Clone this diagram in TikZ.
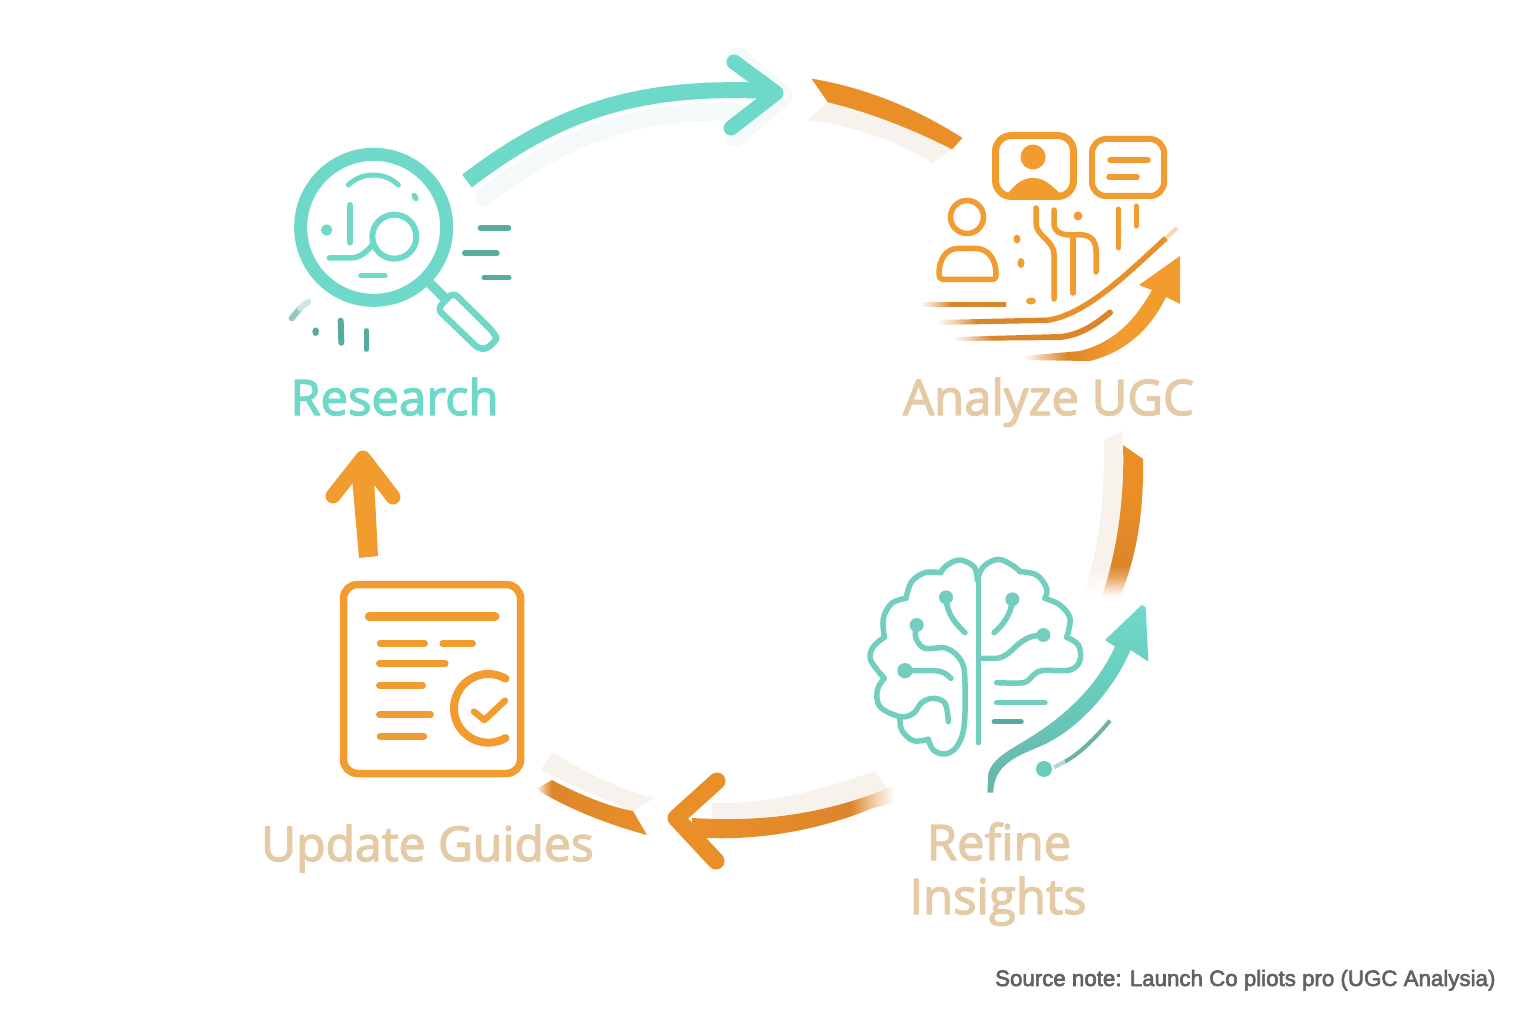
\documentclass[tikz,border=0pt]{standalone}
\usepackage{fontspec}
\setmainfont{Lato}
\newfontfamily\labelfont{Open Sans}
\newfontfamily\notefont{Liberation Sans}
\newcommand{\heavy}[2]{\special{pdf:code q #1 w 1 j 2 Tr}#2\special{pdf:code Q}}
\usetikzlibrary{calc}
\definecolor{teal}{HTML}{6FD9C9}
\definecolor{tealdark}{HTML}{58AB9F}
\definecolor{tealline}{HTML}{72CFC0}
\definecolor{orangeicon}{HTML}{F29B2E}
\definecolor{orangearrow}{HTML}{EA8F28}
\definecolor{orangedeep}{HTML}{DD852A}
\definecolor{tanlabel}{HTML}{E4CBA5}
\definecolor{notegray}{HTML}{5F635E}
\definecolor{shadeorange}{HTML}{F8F2EC}
\definecolor{shadeteal}{HTML}{F4FAF9}
\pgfdeclarehorizontalshading{linefade}{100bp}{color(0bp)=(white); color(25bp)=(white); color(33bp)=(orangedeep!40!white); color(43bp)=(orangedeep!90!brown); color(100bp)=(orangedeep)}
\pgfdeclarehorizontalshading{arrowfade}{100bp}{color(0bp)=(white); color(25bp)=(white); color(31bp)=(orangedeep!45!white); color(39bp)=(orangedeep); color(54bp)=(orangeicon); color(100bp)=(orangeicon)}
\pgfdeclareverticalshading{rightfade}{100bp}{color(0bp)=(white); color(25bp)=(white); color(31bp)=(orangedeep!70!white); color(35bp)=(orangedeep); color(60bp)=(orangearrow); color(100bp)=(orangearrow)}
\pgfdeclareverticalshading{rightghost}{100bp}{color(0bp)=(white); color(25bp)=(white); color(33bp)=(shadeorange); color(100bp)=(shadeorange)}
\pgfdeclarehorizontalshading{tailfade}{100bp}{color(0bp)=(orangearrow); color(25bp)=(orangearrow); color(64bp)=(orangedeep); color(70bp)=(orangedeep!40!white); color(75bp)=(white); color(100bp)=(white)}
\pgfdeclarehorizontalshading{tailfadeb}{100bp}{color(0bp)=(white); color(25bp)=(white); color(28bp)=(orangedeep!50!white); color(32bp)=(orangedeep); color(75bp)=(orangearrow); color(100bp)=(orangearrow)}
\tikzset{
  x=1pt,y=-1pt,
  lab/.style={font=\labelfont\fontsize{49}{49}\selectfont,anchor=base},
  tealstroke/.style={draw=teal,line cap=round,line join=round},
  brainline/.style={draw=tealline,line width=5.5pt,line cap=round,line join=round},
  darkstroke/.style={draw=tealdark,line cap=round,line join=round},
  ostroke/.style={draw=orangeicon,line cap=round,line join=round},
  zoomres/.style={shift={(270,130)},scale=1/3},
  zoombrain/.style={shift={(850,550)},scale=1/3},
  zoomdoc/.style={shift={(330,570)},scale=1/3},
}
\newcommand{\lobeplot}[1]{\draw[brainline] plot[smooth,tension=.6] coordinates {#1};}
\begin{document}
\begin{tikzpicture}
\useasboundingbox (0,0) rectangle (1536,1024);
\fill[white] (0,0) rectangle (1536,1024);

% ---------- named ends of the connectors
\coordinate (ra) at (467,181);
\coordinate (rb) at (776,93);
\coordinate (ab) at (812,79);
\coordinate (ba) at (1123,445);
\coordinate (ur) at (363,458);

% ---------- connector 1 Research -> Analyze
\draw[shadeteal,line width=18pt,line cap=round] (484,197) .. controls (560,137) and (640,108) .. (735,112);
\draw[shadeteal,line width=21pt,line cap=round,line join=round] (738,58) -- (782,96) -- (735,136);
\draw[teal,line width=16pt] (ra) .. controls (560,110) and (640,85) .. (770,91);
\draw[teal,line width=15pt,line cap=round,line join=round] (734,62) -- (rb) -- (731,128);

% ---------- connector 2 Analyze side
\fill[shadeorange] (808,120) -- (828,102) .. controls (870,112) and (915,130) .. (952,149) -- (933,163) .. controls (895,140) and (850,125) .. (808,120) -- cycle;
\fill[orangearrow,draw=orangearrow,line width=.5pt,line join=round] (ab) .. controls (865,88) and (915,108) .. (962,138) -- (952,149) .. controls (915,130) and (870,112) .. (828,102) -- cycle;

% ---------- connector 3 right
\shade[shading=rightghost] (1104,440) -- (1122,431) -- (1126,596) -- (1083,596) .. controls (1098,555) and (1105,500) .. (1104,440) -- cycle;
\shade[shading=rightfade] (ba) -- (1143,459) .. controls (1144,505) and (1138,555) .. (1120,596) -- (1102,596) .. controls (1116,555) and (1125,500) .. (ba) -- cycle;

% ---------- connector 4 bottom
\fill[shadeorange] (712,803) .. controls (770,805) and (820,790) .. (875,771) -- (893,797) -- (870,797) .. controls (815,815) and (760,820) .. (712,818) -- cycle;
\shade[shading=tailfade] (692,818) .. controls (760,822) and (815,815) .. (873,794) -- (895,785) -- (894,803) -- (873,808) .. controls (815,832) and (750,842) .. (692,837) -- cycle;
\draw[orangearrow,line width=17pt,line cap=round,line join=round] (717,781) -- (676,818) -- (716,861);

% ---------- connector 5 Guides side
\fill[shadeorange] (541,770) -- (552,752) .. controls (585,772) and (620,790) .. (654,798) -- (633,811) .. controls (605,800) and (570,785) .. (541,770) -- cycle;
\shade[shading=tailfadeb] (536,789) -- (552,780) .. controls (580,795) and (610,807) .. (633,811) -- (647,835) .. controls (610,825) and (570,810) .. (536,789) -- cycle;

% ---------- connector 6 Update -> Research
\fill[orangeicon] (359,558) -- (352,478) -- (363,452) -- (374,478) -- (378,556) -- cycle;
\draw[orangeicon,line width=15pt,line cap=round,line join=round] (333,496) -- (ur) -- (393,497);

% ---------- Research icon
\begin{scope}[zoomres]
\draw[teal,line width=13pt] (311,292) circle (219);
\draw[tealstroke,line width=5pt] (235,165) .. controls (275,125) and (345,125) .. (385,165);
\fill[teal] (435,201) ellipse [x radius=9,y radius=14,rotate=30];
\draw[tealstroke,line width=6pt] (240,225) -- (240,338);
\fill[teal] (170,300) circle (17);
\draw[tealstroke,line width=6pt] (373,320) circle (66);
\draw[tealstroke,line width=5.5pt] (178,384) -- (240,384) .. controls (270,384) and (290,365) .. (307,345);
\draw[tealstroke,line width=5pt] (272,437) -- (345,437);
\draw[darkstroke,line width=6pt] (632,295) -- (715,295);
\draw[darkstroke,line width=6pt] (585,370) -- (680,370);
\draw[darkstroke,line width=5pt] (642,443) -- (717,443);
\draw[tealdark!65!white,line width=6pt,line cap=round] (65,565) -- (90,535);
\draw[tealdark!30!white,line width=6pt,line cap=round] (90,535) -- (115,515);
\fill[tealdark] (137,605) ellipse [x radius=10,y radius=13];
\draw[darkstroke,line width=6pt] (212,572) -- (214,638);
\draw[darkstroke,line width=5pt] (288,602) -- (288,658);
\draw[teal,line width=10pt] (480,460) -- (530,510);
\draw[teal,fill=white,line width=6.5pt,rounded corners=6pt,line join=round] (502,537) -- (550,487) -- (672,608) .. controls (680,625) and (665,650) .. (630,660) -- cycle;
\end{scope}

% ---------- Analyze icon
\draw[orangeicon,line width=7pt,rounded corners=16pt] (995.5,135.5) rectangle (1073.5,196.5);
\fill[orangeicon] (1033,157) circle (12.5);
\fill[orangeicon] (1005,196) .. controls (1012,190) and (1018,178) .. (1033,178) .. controls (1048,178) and (1054,190) .. (1064,196) -- cycle;
\draw[orangeicon,line width=6pt,rounded corners=14pt] (1092,139) rectangle (1164,196);
\draw[ostroke,line width=5.5pt] (1110,160) -- (1148,160);
\draw[ostroke,line width=5.5pt] (1109,177) -- (1137,177);
\draw[orangeicon,line width=5.5pt] (967,217) circle (16.5);
\draw[ostroke,line width=5.5pt] (945,279.5) -- (991,279.5) .. controls (995,279.5) and (996,278) .. (996,274) .. controls (996,258) and (987,248.5) .. (976,248.5) -- (958,248.5) .. controls (947,248.5) and (939,258) .. (939,274) .. controls (939,278) and (941,279.5) .. (945,279.5) -- cycle;
\fill[orangeicon] (1017,239) ellipse [x radius=3.5,y radius=4.5];
\fill[orangeicon] (1021,263) ellipse [x radius=3.5,y radius=5];
\fill[orangeicon] (1031,301) ellipse [x radius=5,y radius=3.5];
\draw[ostroke,line width=5.5pt] (1036,208) -- (1036,223) .. controls (1036,236) and (1054,240) .. (1054,255) -- (1054,299);
\draw[ostroke,line width=5.5pt] (1054,210) -- (1054,223) .. controls (1054,232) and (1060,234) .. (1068,235) -- (1083,235) .. controls (1092,236) and (1096,242) .. (1096,250) -- (1096,272);
\draw[ostroke,line width=5.5pt] (1073,235) -- (1073,293);
\fill[orangeicon] (1078,216) circle (4.5);
\draw[ostroke,line width=5pt] (1118,209) -- (1118,248);
\draw[ostroke,line width=5pt] (1136,206) -- (1136,226);
% sweep lines
\shade[shading=linefade] (920,302) rectangle (1006,306.5);
\shade[shading=linefade] (937,320) -- (1048,317.5) -- (1048,323) -- (937,325) -- cycle;
\draw[orangeicon!50!orangedeep,line width=5.5pt] (1047,320.3) .. controls (1085,315) and (1125,276) .. (1166,238);
\draw[orangeicon!40!white,line width=4pt] (1166,238) -- (1177,228);
\shade[shading=linefade] (953,337) -- (1060,334) -- (1060,340) -- (953,341) -- cycle;
\draw[orangedeep,line width=6pt,line cap=round] (1060,337) .. controls (1080,335) and (1095,325) .. (1110,312.5);
\shade[shading=arrowfade] (1023,356) -- (1080,351) .. controls (1115,342) and (1135,320) .. (1152,290) -- (1139,285) -- (1180,256) -- (1180,304) -- (1166,297) .. controls (1150,330) and (1125,352) .. (1090,361) -- (1023,360) -- cycle;

% ---------- Brain icon
\begin{scope}[zoombrain]
\lobeplot{(382,90)(372,50)(328,30)(288,48)(272,68)}
\lobeplot{(272,68)(225,68)(185,95)(168,145)}
\lobeplot{(168,145)(125,160)(100,205)(103,262)}
\lobeplot{(103,262)(70,290)(62,330)(103,385)}
\lobeplot{(103,385)(82,420)(90,470)(150,500)(190,490)(215,458)(250,445)(285,460)(295,515)}
\lobeplot{(150,500)(155,540)(190,572)(235,568)}
\lobeplot{(235,568)(250,600)(285,612)(320,590)(342,530)(345,400)(335,335)(290,295)(225,295)(198,265)(198,228)}
\lobeplot{(382,90)(400,50)(445,28)(490,48)(510,65)}
\lobeplot{(510,65)(560,75)(590,115)(585,145)}
\lobeplot{(585,145)(630,165)(660,205)(650,262)}
\lobeplot{(650,262)(685,285)(690,330)(660,360)(575,362)(545,380)(520,398)(440,398)}
\draw[brainline] (385,90) -- (385,578);
\draw[brainline] (395,325) -- (440,325) .. controls (490,320) and (500,255) .. (580,255);
\draw[brainline] (487,148) .. controls (485,190) and (460,225) .. (432,248);
\draw[brainline] (288,142) .. controls (290,190) and (315,220) .. (345,248);
\draw[brainline] (165,362) -- (255,362) .. controls (275,362) and (290,372) .. (303,385);
\draw[brainline] (440,458) -- (585,458);
\draw[brainline,draw=tealdark] (433,515) -- (513,515);
\foreach \p/\r in {{(580,255)}/21,{(487,148)}/21,{(288,142)}/21,{(200,225)}/21,{(165,362)}/23}{\fill[tealline] \p circle (\r);}
\shade[top color=teal,bottom color=tealdark!90!white,middle color=teal!70!tealdark] (412,728) -- (415,670) .. controls (425,630) and (470,605) .. (520,575) .. controls (620,515) and (730,430) .. (795,290) -- (765,270) -- (875,165) -- (887,172) -- (895,335) -- (842,300) .. controls (790,420) and (690,530) .. (590,580) .. controls (530,610) and (430,630) .. (430,728) -- cycle;
\fill[teal!70!tealdark] (582,657) circle (24);
\draw[tealdark!90!white,line width=4pt] (645,635) .. controls (690,610) and (735,565) .. (780,512);
\draw[tealdark!45!white,line width=4pt] (612,652) -- (645,635);
\end{scope}

% ---------- Guides icon
\draw[orangeicon,line width=7.5pt,rounded corners=14pt] (343.5,584.5) rectangle (520.5,773.5);
\begin{scope}[zoomdoc]
\draw[ostroke,line width=9pt] (118,140) -- (495,140);
\draw[ostroke,line width=6.5pt] (150,220) -- (284,220);
\draw[ostroke,line width=6.5pt] (338,220) -- (428,220);
\draw[ostroke,line width=6.5pt] (148,280) -- (346,280);
\draw[ostroke,line width=6.5pt] (148,346) -- (278,346);
\draw[ostroke,line width=6.5pt] (148,434) -- (302,434);
\draw[ostroke,line width=6.5pt] (150,499) -- (282,499);
\draw[ostroke,line width=8pt] plot[smooth,samples=40,domain=60:300] ({475+103*cos(\x)},{415-103*sin(\x)});
\draw[ostroke,line width=6.5pt] (432,425) -- (463,450) -- (525,392);
\end{scope}

% ---------- labels
\node[lab,text=teal] (research) at (394.5,415) {\heavy{1.3}{Research}};
\node[lab,text=tanlabel] (analyze) at (1048.5,415) {\heavy{1.3}{Analyze UGC}};
\node[lab,text=tanlabel,font=\labelfont\fontsize{48}{48}\selectfont] (update) at (427.5,861) {\heavy{1.3}{Update Guides}};
\node[lab,text=tanlabel] (refine) at (999,860) {\heavy{1.3}{Refine}};
\node[lab,text=tanlabel] (insights) at (998,914) {\heavy{1.3}{Insights}};
\node[font=\notefont\fontsize{22.3}{22}\selectfont,text=notegray,anchor=base east] (note) at (1499,986) {\heavy{0.6}{Source note: Launch Co pliots pro (UGC Analysia)}};
\end{tikzpicture}
\end{document}
